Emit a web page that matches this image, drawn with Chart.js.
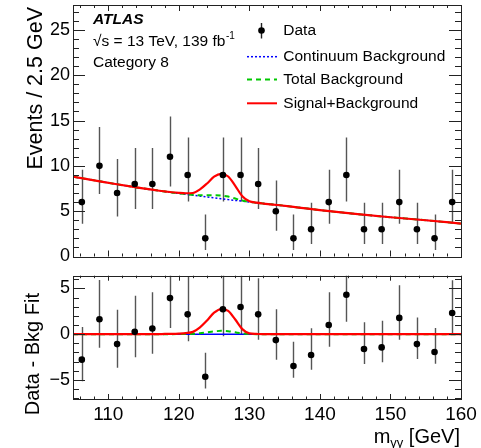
<!DOCTYPE html>
<html>
<head>
<meta charset="utf-8">
<script src="https://cdn.jsdelivr.net/npm/chart.js@4.4.1/dist/chart.umd.min.js"></script>
<style>
  html, body { margin: 0; padding: 0; background: #fff; }
  #wrap { position: relative; width: 481px; height: 448px; }
  #cTop { position: absolute; left: 0; top: 0; }
  #cBot { position: absolute; left: 0; top: 265px; }
</style>
</head>
<body>
<div id="wrap">
  <canvas id="cTop" width="481" height="265"></canvas>
  <canvas id="cBot" width="481" height="183"></canvas>
</div>
<script>
// ── data ─────────────────────────────────────
const binCenters = [106.25, 108.75, 111.25, 113.75, 116.25, 118.75, 121.25, 123.75, 126.25, 128.75, 131.25,
                    133.75, 136.25, 138.75, 141.25, 143.75, 146.25, 148.75, 151.25, 153.75, 156.25, 158.75];
const events     = [6, 10, 7, 8, 8, 11, 9, 2, 9, 9, 8, 5, 2, 3, 6, 9, 3, 3, 6, 3, 2, 6];
const errDown    = [2.38, 3.11, 2.58, 2.77, 2.77, 3.27, 2.94, 1.29, 2.94, 2.94, 2.77, 2.16, 1.29, 1.63, 2.38, 2.94, 1.63, 1.63, 2.38, 1.63, 1.29, 2.38];
const errUp      = [3.58, 4.30, 3.77, 3.96, 3.96, 4.46, 4.13, 2.64, 4.13, 4.13, 3.96, 3.38, 2.64, 2.92, 3.58, 4.13, 2.92, 2.92, 3.58, 2.92, 2.64, 3.58];
const residuals  = [-2.79, 1.63, -1.09, 0.25, 0.62, 3.95, 2.17, -4.67, 2.72, 2.97, 2.17, -0.65, -3.48, -2.28, 1.01, 4.31, -1.63, -1.45, 1.78, -1.09, -1.96, 2.32];

// fitted curves
const curveMass  = [105, 108, 111, 114, 117, 118, 119, 120, 121, 122, 123, 124, 125, 126, 127, 128, 129, 130, 131, 132, 133, 134, 137, 140, 145, 150, 155, 160];
const contBkg    = [8.8, 8.4, 8.0, 7.62, 7.28, 7.17, 7.06, 6.96, 6.86, 6.76, 6.66, 6.56, 6.46, 6.37, 6.28, 6.19, 6.1, 6.01, 5.92, 5.84, 5.76, 5.68, 5.4, 5.12, 4.7, 4.33, 4.0, 3.63];
const higgsBkg   = [0, 0, 0, 0, 0, 0, 0, 0.01, 0.02, 0.04, 0.1, 0.2, 0.3, 0.36, 0.33, 0.2, 0.08, 0.02, 0, 0, 0, 0, 0, 0, 0, 0, 0, 0];
const sbExcess   = [0, 0, 0, 0, 0, 0.02, 0.03, 0.06, 0.12, 0.25, 0.75, 1.5, 2.35, 2.75, 2.55, 1.6, 0.55, 0.08, 0.02, 0, 0, 0, 0, 0, 0, 0, 0, 0];

const xTicks     = [110, 120, 130, 140, 150, 160];
const topYTicks  = [0, 5, 10, 15, 20, 25];
const botYTicks  = [-5, 0, 5];

const FONT = '"Liberation Sans", Arial, Helvetica, sans-serif';
const RED = '#ff0000', GREEN = '#00c800', BLUE = '#0000ff';

// ── plugins ──────────────────────────────────
function makeErrorBars(vals) {
  return {
    id: 'errorBars',
    beforeDatasetsDraw(chart) {
      const { ctx, chartArea: a } = chart;
      const xs = chart.scales.x, ys = chart.scales.y;
      ctx.save();
      ctx.beginPath(); ctx.rect(a.left, a.top, a.right - a.left, a.bottom - a.top); ctx.clip();
      ctx.strokeStyle = '#555'; ctx.lineWidth = 1.4;
      binCenters.forEach((m, i) => {
        const px = Math.round(xs.getPixelForValue(m)) + 0.5;
        ctx.beginPath();
        ctx.moveTo(px, ys.getPixelForValue(vals[i] - errDown[i]));
        ctx.lineTo(px, ys.getPixelForValue(vals[i] + errUp[i]));
        ctx.stroke();
      });
      ctx.restore();
    }
  };
}

// ROOT style frame, ticks inside on all four sides
function makeFrame(c) {
  return {
    id: 'frame',
    afterDraw(chart) {
      const { ctx, chartArea: a } = chart;
      const xs = chart.scales.x, ys = chart.scales.y;
      ctx.save();
      ctx.strokeStyle = '#222'; ctx.lineWidth = 1;
      ctx.beginPath();
      for (let v = 106; v <= 160; v += 2) {
        const px = Math.round(xs.getPixelForValue(v)) + 0.5;
        const L = v % 10 === 0 ? c.xMajor : c.xMinor;
        ctx.moveTo(px, a.bottom); ctx.lineTo(px, a.bottom - L);
        ctx.moveTo(px, a.top); ctx.lineTo(px, a.top + L);
      }
      for (let v = Math.ceil(ys.min); v <= ys.max; v += 1) {
        const py = Math.round(ys.getPixelForValue(v)) + 0.5;
        const L = v % 5 === 0 ? c.yMajor : c.yMinor;
        ctx.moveTo(a.left, py); ctx.lineTo(a.left + L, py);
        ctx.moveTo(a.right, py); ctx.lineTo(a.right - L, py);
      }
      ctx.stroke();
      ctx.strokeRect(Math.round(a.left) + 0.5, Math.round(a.top) + 0.5, Math.round(a.right - a.left), Math.round(a.bottom - a.top));
      ctx.restore();
    }
  };
}

function yTitle(ctx, text, x, y, size) {
  ctx.save();
  ctx.translate(x, y); ctx.rotate(-Math.PI / 2);
  ctx.font = `${size}px ${FONT}`; ctx.fillStyle = '#000';
  ctx.textAlign = 'right'; ctx.textBaseline = 'alphabetic';
  ctx.fillText(text, 0, 0);
  ctx.restore();
}

const topLabels = {
  id: 'topLabels',
  afterDraw(chart) {
    const ctx = chart.ctx;
    ctx.save();
    ctx.fillStyle = '#000';
    ctx.font = `italic bold 15.5px ${FONT}`;
    ctx.fillText('ATLAS', 93, 23.5);
    ctx.font = `15.5px ${FONT}`;
    const l2 = '√s = 13 TeV, 139 fb';
    ctx.fillText(l2, 93, 45.5);
    const w2 = ctx.measureText(l2).width;
    ctx.font = `10px ${FONT}`;
    ctx.fillText('-1', 93 + w2 + 0.5, 39);
    ctx.font = `15.5px ${FONT}`;
    ctx.fillText('Category 8', 93, 67);

    // legend
    const lx = 283.3;
    ctx.textBaseline = 'middle';
    ctx.fillText('Data', lx, 30.5);
    ctx.fillText('Continuum Background', lx, 56.7);
    ctx.fillText('Total Background', lx, 79.5);
    ctx.fillText('Signal+Background', lx, 103.3);
    ctx.strokeStyle = '#222'; ctx.lineWidth = 1.4;
    ctx.beginPath(); ctx.moveTo(261.5, 23); ctx.lineTo(261.5, 38.5); ctx.stroke();
    ctx.beginPath(); ctx.arc(261.5, 30.5, 3.3, 0, Math.PI * 2); ctx.fill();
    ctx.lineWidth = 1.5; ctx.strokeStyle = BLUE; ctx.setLineDash([2, 2]);
    ctx.beginPath(); ctx.moveTo(247, 56.7); ctx.lineTo(277, 56.7); ctx.stroke();
    ctx.lineWidth = 2; ctx.strokeStyle = GREEN; ctx.setLineDash([5, 4]);
    ctx.beginPath(); ctx.moveTo(247, 79.5); ctx.lineTo(277, 79.5); ctx.stroke();
    ctx.strokeStyle = RED; ctx.setLineDash([]);
    ctx.beginPath(); ctx.moveTo(247, 103.3); ctx.lineTo(277, 103.3); ctx.stroke();
    ctx.restore();
    yTitle(ctx, 'Events / 2.5 GeV', 41.5, 7, 21.5);
  }
};

const botLabels = {
  id: 'botLabels',
  afterDraw(chart) {
    const ctx = chart.ctx;
    yTitle(ctx, 'Data - Bkg Fit', 39, 28, 20);
    ctx.save();
    ctx.fillStyle = '#000'; ctx.textBaseline = 'alphabetic';
    const parts = [['m', 20, 0], ['γγ', 13, 4], [' [GeV]', 20, 0]];
    let total = 0;
    parts.forEach(p => { ctx.font = `${p[1]}px ${FONT}`; p.push(ctx.measureText(p[0]).width); total += p[3]; });
    let x = 460 - total;
    parts.forEach(p => { ctx.font = `${p[1]}px ${FONT}`; ctx.fillText(p[0], x, 178 + p[2]); x += p[3]; });
    ctx.restore();
  }
};

// ── chart builders ───────────────────────────
const pts = (ys) => curveMass.map((m, i) => ({ x: m, y: ys[i] }));
const line = (data, color, width, dash) => ({
  data, showLine: true, pointRadius: 0, borderColor: color, borderWidth: width, borderDash: dash,
  cubicInterpolationMode: 'monotone', fill: false
});
const dots = (vals) => ({
  data: binCenters.map((m, i) => ({ x: m, y: vals[i] })),
  showLine: false, pointRadius: 3.3, pointBackgroundColor: '#000', pointBorderWidth: 0
});

function yScale(min, max, ticks) {
  return {
    min, max,
    afterBuildTicks: s => { s.ticks = ticks.map(v => ({ value: v })); },
    afterFit: s => { s.width = 73; s.paddingTop = 0; s.paddingBottom = 0; },
    grid: { display: false, drawTicks: false, tickLength: 0 }, border: { display: false },
    ticks: { color: '#000', padding: 3, font: { family: FONT, size: 18 }, callback: v => v < 0 ? '\u2212' + Math.abs(v) : String(v) }
  };
}

new Chart(document.getElementById('cTop'), {
  type: 'scatter',
  data: {
    datasets: [
      dots(events),
      line(pts(contBkg.map((b, i) => b + sbExcess[i])), RED, 2.2, []),
      line(pts(contBkg.map((b, i) => b + higgsBkg[i])), GREEN, 2, [5, 4]),
      line(pts(contBkg), BLUE, 1.5, [2, 2])
    ]
  },
  options: {
    responsive: false, animation: false,
    layout: { padding: { left: 0, top: 5, right: 20, bottom: 8.5 } },
    plugins: { legend: { display: false }, tooltip: { enabled: false } },
    scales: {
      x: { type: 'linear', min: 105, max: 160, display: false },
      y: yScale(0, 27.75, topYTicks)
    }
  },
  plugins: [makeErrorBars(events), makeFrame({ xMajor: 6, xMinor: 3, yMajor: 12, yMinor: 6 }), topLabels]
});

new Chart(document.getElementById('cBot'), {
  type: 'scatter',
  data: {
    datasets: [
      dots(residuals),
      line(pts(sbExcess), RED, 2.2, []),
      line(pts(higgsBkg), GREEN, 2, [5, 4]),
      line(pts(curveMass.map(() => 0)), BLUE, 1.5, [])
    ]
  },
  options: {
    responsive: false, animation: false,
    layout: { padding: { left: 0, top: 10.7, right: 20, bottom: 0 } },
    plugins: { legend: { display: false }, tooltip: { enabled: false } },
    scales: {
      x: {
        type: 'linear', min: 105, max: 160,
        afterBuildTicks: s => { s.ticks = xTicks.map(v => ({ value: v })); },
        afterFit: s => { s.height = 49; s.paddingLeft = 0; s.paddingRight = 0; },
        grid: { display: false, drawTicks: false, tickLength: 0 }, border: { display: false },
        ticks: { color: '#000', padding: 4, maxRotation: 0, autoSkip: false, font: { family: FONT, size: 19 } }
      },
      y: yScale(-7.1, 6.4, botYTicks)
    }
  },
  plugins: [makeErrorBars(residuals), makeFrame({ xMajor: 5, xMinor: 2.5, yMajor: 12, yMinor: 6 }), botLabels]
});
</script>
</body>
</html>
